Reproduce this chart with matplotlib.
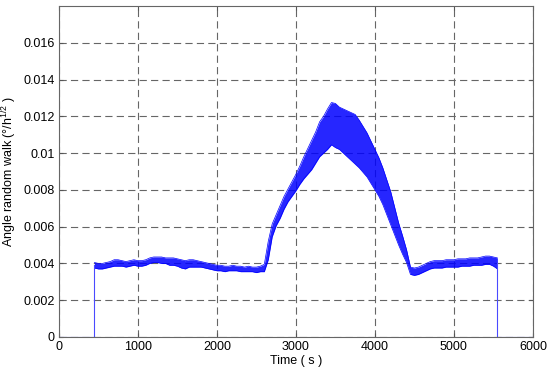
import matplotlib
matplotlib.use("Agg")
import matplotlib.pyplot as plt
import numpy as np

plt.rcParams['font.family'] = ['Liberation Sans', 'DejaVu Sans']
plt.rcParams['mathtext.default'] = 'regular'

# envelope of the noisy ARW trace (units of 1e-3 deg/h^0.5)
t_env = list(range(450, 5551, 50))
upper = [4.05, 4.0, 4.0, 4.05, 4.1, 4.2, 4.2, 4.15, 4.1, 4.15,
         4.2, 4.15, 4.15, 4.2, 4.3, 4.35, 4.35, 4.35, 4.3, 4.3,
         4.3, 4.25, 4.2, 4.15, 4.2, 4.2, 4.15, 4.1, 4.05, 4.0,
         3.95, 3.9, 3.9, 3.85, 3.85, 3.9, 3.85, 3.85, 3.8, 3.85,
         3.8, 3.8, 3.85, 3.95, 5.2, 6.15, 6.65, 7.15, 7.65, 8.05,
         8.45, 8.85, 9.3, 9.8, 10.25, 10.7, 11.15, 11.7, 12.0, 12.4,
         12.75, 12.7, 12.5, 12.4, 12.3, 12.2, 12.1, 11.8, 11.45, 11.1,
         10.65, 10.2, 9.75, 9.2, 8.55, 7.9, 7.05, 6.2, 5.5, 4.75,
         3.8, 3.75, 3.8, 3.9, 4.0, 4.1, 4.15, 4.15, 4.15, 4.2,
         4.2, 4.2, 4.25, 4.25, 4.25, 4.3, 4.3, 4.3, 4.35, 4.4,
         4.4, 4.35, 4.3]
lower = [3.75, 3.7, 3.7, 3.75, 3.8, 3.85, 3.85, 3.85, 3.8, 3.85,
         3.9, 3.85, 3.85, 3.9, 4.0, 4.05, 4.05, 4.0, 4.0, 3.9,
         3.9, 3.85, 3.75, 3.7, 3.8, 3.8, 3.8, 3.8, 3.75, 3.7,
         3.65, 3.6, 3.6, 3.55, 3.6, 3.6, 3.6, 3.55, 3.55, 3.55,
         3.55, 3.5, 3.55, 3.55, 4.2, 5.45, 6.05, 6.45, 6.95, 7.35,
         7.65, 7.95, 8.3, 8.6, 8.85, 9.1, 9.45, 9.8, 10.0, 10.2,
         10.45, 10.3, 10.2, 10.0, 9.8, 9.6, 9.4, 9.2, 8.95, 8.7,
         8.35, 8.0, 7.65, 7.2, 6.65, 6.1, 5.55, 5.0, 4.5, 4.05,
         3.4, 3.35, 3.4, 3.5, 3.6, 3.7, 3.75, 3.75, 3.75, 3.8,
         3.8, 3.8, 3.8, 3.85, 3.85, 3.85, 3.9, 3.9, 3.9, 3.95,
         3.95, 3.85, 3.7]

# zero level before the start and after the end of the run
t_zero_a = [0, 440, 440]
v_zero_a = [0, 0, 3.9]
t_zero_b = [5550, 5550, 6000]
v_zero_b = [4.0, 0, 0]

scale = 1e-3
t = np.array(t_env)
up = np.array(upper) * scale
lo = np.array(lower) * scale

fig = plt.figure(figsize=(5.5, 3.74), dpi=100)
ax = fig.add_axes([0.107, 0.099, 0.862, 0.885])

ax.fill_between(t, lo, up, color='#0000ff', alpha=0.85, lw=0)
ax.plot(t, up, color='#0000ff', lw=0.5)
ax.plot(t, lo, color='#0000ff', lw=0.5)
ax.plot(t_zero_a, np.array(v_zero_a) * scale, color='#4a4aff', lw=0.8)
ax.plot(t_zero_b, np.array(v_zero_b) * scale, color='#4a4aff', lw=0.8)

ax.set_xlim(0, 6000)
ax.set_ylim(0, 0.018)
ax.set_xticks([0, 1000, 2000, 3000, 4000, 5000, 6000])
ax.set_yticks([0, 0.002, 0.004, 0.006, 0.008, 0.01, 0.012, 0.014, 0.016])
ax.set_yticklabels(['0', '0.002', '0.004', '0.006', '0.008', '0.01',
                    '0.012', '0.014', '0.016'])

ax.grid(True, color='#666666', lw=0.8, linestyle=(0, (6.5, 3.8)))
ax.set_axisbelow(True)
ax.tick_params(direction='in', length=3, labelsize=9, top=True, right=True,
               color='#555555', pad=3)
for s in ax.spines.values():
    s.set_color('#666666')
    s.set_linewidth(0.8)

ax.set_xlabel('Time ( s )', fontsize=9, labelpad=1)
ax.set_ylabel(r'Angle random walk (°/h$^{1/2}$ )', fontsize=9, labelpad=3)

plt.savefig('out.png', dpi=100)
